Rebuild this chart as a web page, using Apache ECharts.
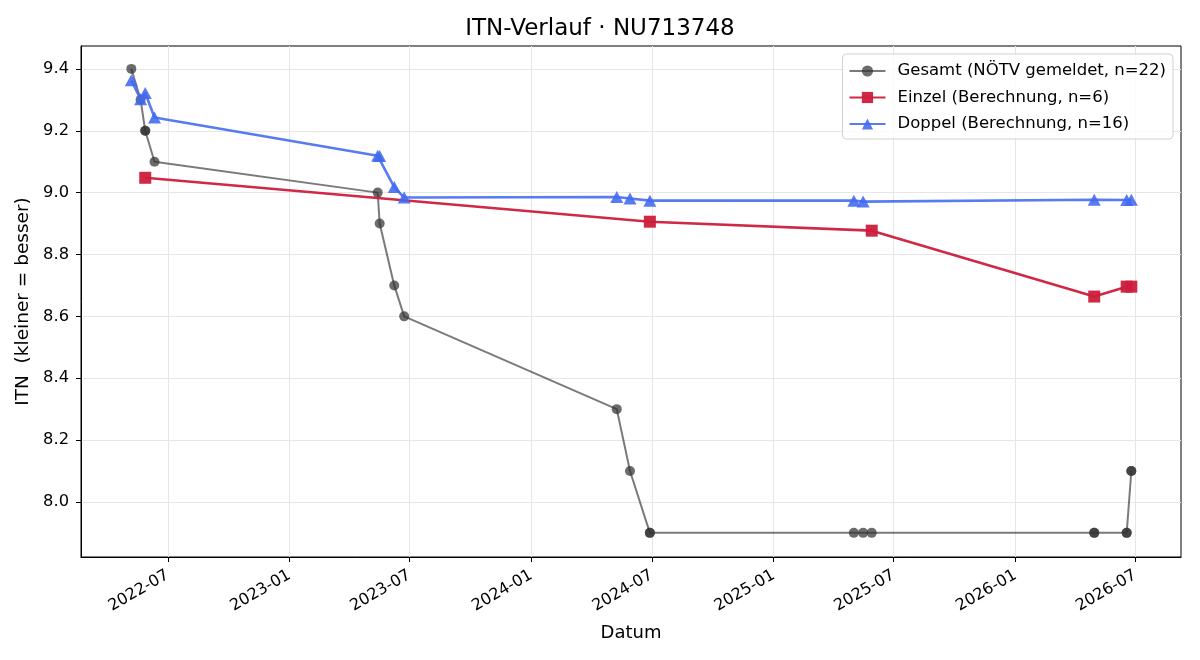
<!DOCTYPE html>
<html>
<head>
<meta charset="utf-8">
<script src="https://cdn.jsdelivr.net/npm/echarts@6/dist/echarts.min.js"></script>
<style>
  html, body { margin: 0; padding: 0; background: #fff; }
  #chart { width: 1200px; height: 660px; }
</style>
</head>
<body>
<div id="chart"></div>
<script>
// Gesamt (NÖTV gemeldet) – one entry per match, sorted by date
var gesamtDates = ['2022-05-07', '2022-05-21', '2022-05-28', '2022-05-28', '2022-06-11',
                   '2023-05-14', '2023-05-17', '2023-06-08', '2023-06-23',
                   '2024-05-09', '2024-05-29', '2024-06-28', '2024-06-28',
                   '2025-05-02', '2025-05-16', '2025-05-29',
                   '2026-04-30', '2026-04-30', '2026-06-18', '2026-06-18', '2026-06-25', '2026-06-25'];
var gesamtValues = [9.4, 9.3, 9.2, 9.2, 9.1,
                    9.0, 8.9, 8.7, 8.6,
                    8.3, 8.1, 7.9, 7.9,
                    7.9, 7.9, 7.9,
                    7.9, 7.9, 7.9, 7.9, 8.1, 8.1];

// Einzel (Berechnung)
var einzelDates = ['2022-05-28', '2024-06-28', '2025-05-29', '2026-04-30', '2026-06-18', '2026-06-25'];
var einzelValues = [9.048, 8.906, 8.877, 8.664, 8.696, 8.696];

// Doppel (Berechnung)
var doppelDates = ['2022-05-07', '2022-05-21', '2022-05-28', '2022-06-11',
                   '2023-05-14', '2023-05-17', '2023-06-08', '2023-06-23',
                   '2024-05-09', '2024-05-29', '2024-06-28',
                   '2025-05-02', '2025-05-16',
                   '2026-04-30', '2026-06-18', '2026-06-25'];
var doppelValues = [9.363, 9.302, 9.322, 9.243,
                    9.119, 9.118, 9.018, 8.984,
                    8.986, 8.981, 8.974,
                    8.974, 8.971,
                    8.977, 8.976, 8.977];

var xTickLabels = ['2022-07-01', '2023-01-01', '2023-07-01', '2024-01-01', '2024-07-01',
                   '2025-01-01', '2025-07-01', '2026-01-01', '2026-07-01'];
var yTicks = [8.0, 8.2, 8.4, 8.6, 8.8, 9.0, 9.2, 9.4];

function ts(s) {
    return Date.UTC(+s.slice(0, 4), +s.slice(5, 7) - 1, +s.slice(8, 10));
}

function pairs(dates, values) {
    var out = [];
    for (var i = 0; i < dates.length; i++) {
        out.push([ts(dates[i]), values[i]]);
    }
    return out;
}

var xTickTimes = xTickLabels.map(ts);
var font = 'DejaVu Sans';

var myChart = echarts.init(document.getElementById('chart'), null, {renderer: 'canvas'});

myChart.setOption({
    backgroundColor: '#fff',
    animation: false,
    textStyle: {fontFamily: font},
    title: {
        text: 'ITN-Verlauf · NU713748',
        left: 'center',
        top: 13,
        textStyle: {fontFamily: font, fontSize: 23, fontWeight: 'normal', color: '#000'}
    },
    legend: {
        orient: 'vertical',
        right: 27,
        top: 54,
        padding: [7, 7, 5, 6],
        itemGap: 6.5,
        itemWidth: 36,
        itemHeight: 14,
        backgroundColor: 'rgba(255,255,255,0.8)',
        borderColor: '#d0d0d0',
        borderWidth: 1,
        borderRadius: 4,
        textStyle: {fontFamily: font, fontSize: 16.5, lineHeight: 20, color: '#000', padding: [0, 0, 0, 7]},
        data: ['Gesamt (NÖTV gemeldet, n=22)', 'Einzel (Berechnung, n=6)', 'Doppel (Berechnung, n=16)']
    },
    grid: {
        left: 81,
        right: 19,
        top: 46,
        bottom: 103,
        show: true,
        borderColor: '#000',
        borderWidth: 1
    },
    xAxis: {
        type: 'value',
        min: ts('2022-02-20'),
        max: ts('2026-09-08'),
        name: 'Datum',
        nameLocation: 'middle',
        nameGap: 67,
        nameTextStyle: {fontFamily: font, fontSize: 18, color: '#000'},
        axisLine: {show: true, lineStyle: {color: '#000', width: 1}},
        axisTick: {show: true, length: 5, lineStyle: {color: '#000'}, customValues: xTickTimes},
        axisLabel: {
            customValues: xTickTimes,
            rotate: 30,
            margin: 17,
            fontFamily: font,
            fontSize: 16,
            color: '#000',
            formatter: function (v) {
                var d = new Date(v);
                var m = d.getUTCMonth() + 1;
                return d.getUTCFullYear() + '-' + (m < 10 ? '0' + m : m);
            }
        },
        splitLine: {show: true, lineStyle: {color: '#e6e6e6', width: 1}}
    },
    yAxis: {
        type: 'value',
        min: 7.822,
        max: 9.474,
        name: 'ITN  (kleiner = besser)',
        nameLocation: 'middle',
        nameGap: 47,
        nameTextStyle: {fontFamily: font, fontSize: 18.5, color: '#000'},
        axisLine: {show: true, lineStyle: {color: '#000', width: 1}},
        axisTick: {show: true, length: 5, lineStyle: {color: '#000'}, customValues: yTicks},
        axisLabel: {
            customValues: yTicks,
            margin: 12,
            fontFamily: font,
            fontSize: 16.3,
            color: '#000',
            formatter: function (v) { return v.toFixed(1); }
        },
        splitLine: {show: true, lineStyle: {color: '#e6e6e6', width: 1}}
    },
    series: [
        {
            name: 'Gesamt (NÖTV gemeldet, n=22)',
            type: 'line',
            data: pairs(gesamtDates, gesamtValues),
            symbol: 'circle',
            symbolSize: 10,
            showAllSymbol: true,
            lineStyle: {color: 'rgba(51,51,51,0.65)', width: 2},
            itemStyle: {color: 'rgba(51,51,51,0.72)'},
            z: 2
        },
        {
            name: 'Einzel (Berechnung, n=6)',
            type: 'line',
            data: pairs(einzelDates, einzelValues),
            symbol: 'rect',
            symbolSize: 12,
            showAllSymbol: true,
            lineStyle: {color: 'rgba(204,30,60,0.95)', width: 2.6},
            itemStyle: {color: 'rgba(204,30,60,0.95)'},
            z: 3
        },
        {
            name: 'Doppel (Berechnung, n=16)',
            type: 'line',
            data: pairs(doppelDates, doppelValues),
            symbol: 'triangle',
            symbolSize: [13, 12],
            showAllSymbol: true,
            lineStyle: {color: 'rgba(65,105,240,0.88)', width: 2.6},
            itemStyle: {color: 'rgba(65,105,240,0.88)'},
            z: 4
        }
    ]
});
</script>
</body>
</html>
